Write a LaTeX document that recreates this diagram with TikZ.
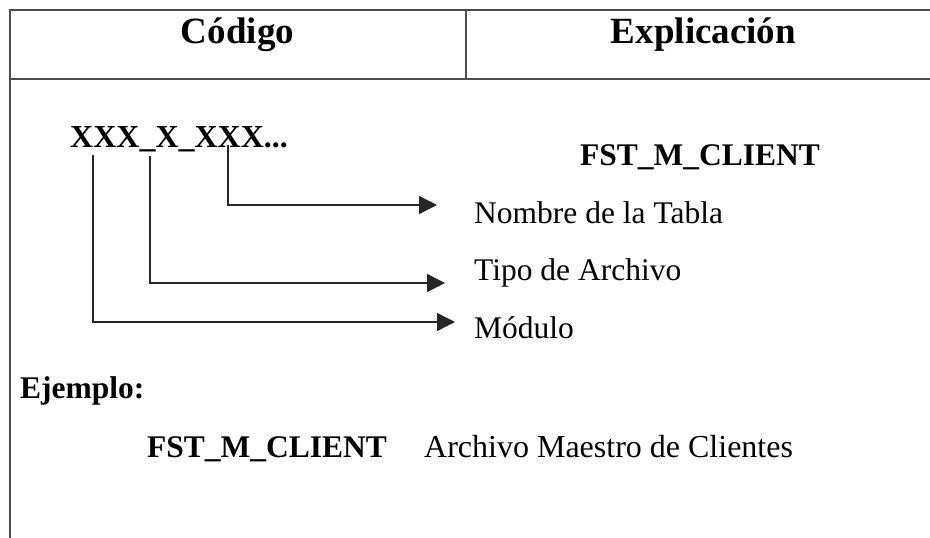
\documentclass[tikz,border=0pt]{standalone}
\usepackage{fontspec}
\setmainfont{Liberation Serif}
\usetikzlibrary{arrows.meta}
\begin{document}
\begin{tikzpicture}[x=1pt,y=-1pt,
  frame/.style={draw=black!70, line width=1.4pt},
  conn/.style={draw=black!85, line width=1.4pt, -{Triangle[length=18pt,width=18pt]}},
  head/.style={inner sep=0pt, anchor=base, font=\fontsize{37}{40}\selectfont\bfseries},
  lbl/.style={inner sep=0pt, anchor=base west, font=\fontsize{31.5}{34}\selectfont},
  blbl/.style={inner sep=0pt, anchor=base west, font=\fontsize{31.5}{34}\selectfont\bfseries}]
\useasboundingbox (0,0) rectangle (930,538);
% table frame
\coordinate (tl) at (10,10);
\coordinate (tr) at (930,10);
\coordinate (bl) at (10,538);
\coordinate (hl) at (10,79);
\coordinate (hr) at (930,79);
\coordinate (dt) at (466,10);
\coordinate (db) at (466,79);
\draw[frame] (tr) -- (tl) -- (bl);
\draw[frame] (hl) -- (hr);
\draw[frame] (dt) -- (db);
% header
\node[head] (codigo) at (237.5,43) {Código};
\node[head] (expl) at (703.5,43) {Explicación};
% code pattern
\node[blbl, font=\fontsize{32}{35}\selectfont\bfseries] (pattern) at (70,147) {XXX\_X\_XXX...};
\node[blbl] (fstA) at (580,165) {FST\_M\_CLIENT};
\node[lbl] (nombre) at (474,223) {Nombre de la Tabla};
\node[lbl] (tipo) at (474,280) {Tipo de Archivo};
\node[lbl] (modulo) at (474,338) {Módulo};
% connectors
\coordinate (s1) at (93,155);
\coordinate (c1) at (93,322);
\coordinate (e1) at (455,322);
\coordinate (s2) at (150,156);
\coordinate (c2) at (150,283);
\coordinate (e2) at (445,283);
\coordinate (s3) at (228,145);
\coordinate (c3) at (228,205);
\coordinate (e3) at (437,205);
\draw[conn] (s1) -- (c1) -- (e1);
\draw[conn] (s2) -- (c2) -- (e2);
\draw[conn] (s3) -- (c3) -- (e3);
% example
\node[blbl] (ejemplo) at (20,398) {Ejemplo:};
\node[blbl] (fstB) at (147,457) {FST\_M\_CLIENT};
\node[lbl, font=\fontsize{32}{35}\selectfont] (archivo) at (424,457) {Archivo Maestro de Clientes};
\end{tikzpicture}
\end{document}
